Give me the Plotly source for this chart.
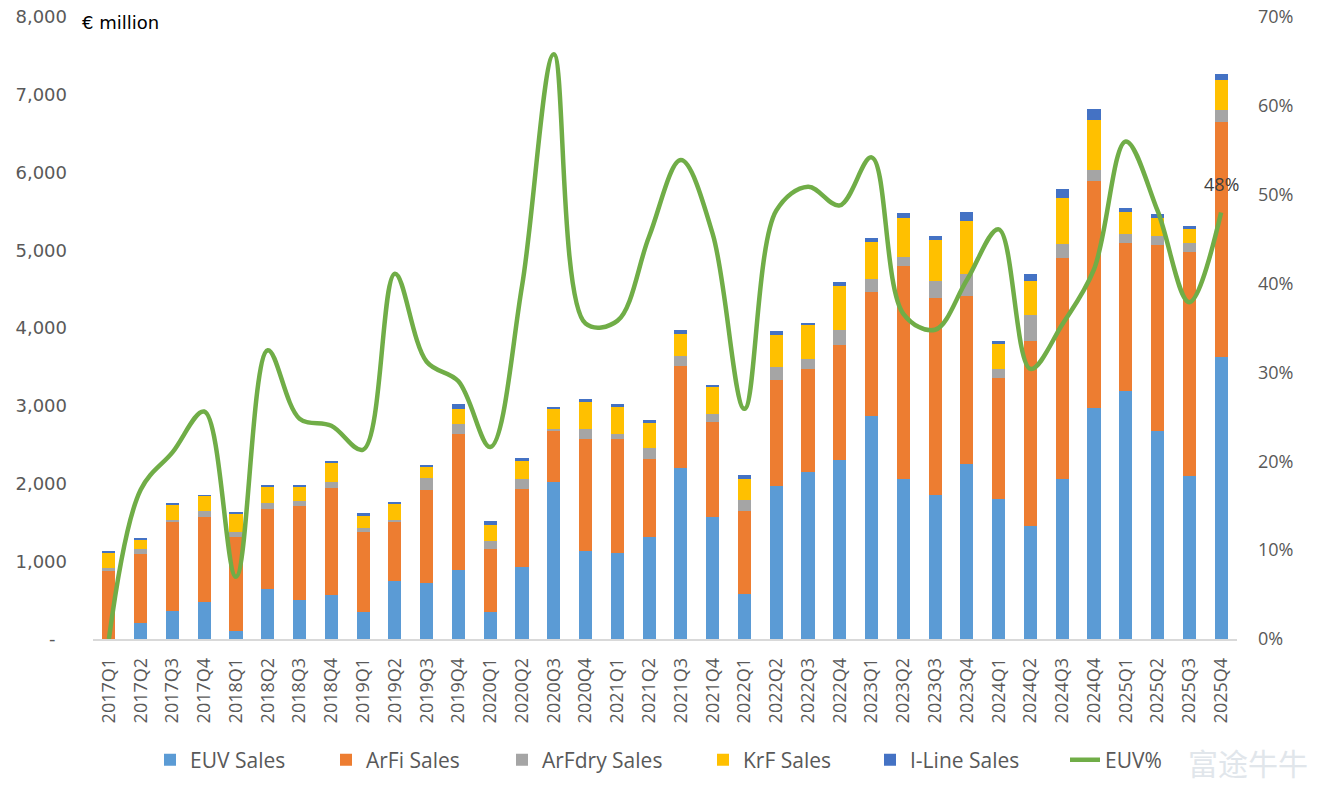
import plotly.graph_objects as go

quarters = [f"{y}Q{q}" for y in range(2017, 2026) for q in range(1, 5)]

euv_sales = [0, 211, 363, 482, 103, 644, 503, 568, 352, 747, 715, 893,
             341, 926, 2019, 1131, 1110, 1315, 2203, 1575, 579, 1965, 2149, 2301,
             2874, 2062, 1846, 2257, 1803, 1456, 2062, 2972, 3188, 2669, 2095, 3632]
arfi_sales = [871, 882, 1142, 1088, 1207, 1029, 1208, 1375, 1018, 758, 1201, 1738,
              817, 1001, 655, 1440, 1461, 1002, 1310, 1213, 1067, 1364, 1321, 1477,
              1592, 2734, 2544, 2155, 1558, 2382, 2837, 2923, 1906, 2403, 2880, 3015]
arfdry_sales = [44, 65, 32, 76, 65, 75, 70, 76, 64, 27, 152, 135,
                103, 130, 27, 130, 65, 146, 130, 103, 140, 168, 130, 195,
                162, 114, 211, 281, 109, 335, 184, 140, 119, 108, 119, 157]
krf_sales = [195, 125, 190, 194, 243, 217, 173, 244, 152, 206, 146, 195,
             206, 238, 260, 347, 347, 314, 281, 357, 276, 411, 433, 568,
             476, 503, 536, 682, 324, 433, 595, 639, 281, 238, 173, 384]
iline_sales = [10, 22, 21, 11, 17, 16, 27, 27, 32, 21, 22, 59,
               49, 33, 22, 37, 37, 38, 49, 21, 49, 49, 32, 49,
               55, 65, 43, 114, 38, 87, 108, 141, 54, 49, 43, 76]
euv_pct = [0, 16.8, 21.0, 25.6, 7.0, 32.5, 24.8, 24.0, 21.3, 41.1, 31.2, 29.0,
           21.6, 39.7, 65.8, 35.5, 35.8, 45.3, 53.9, 45.6, 25.9, 48.2, 50.9, 48.8,
           54.2, 36.6, 34.8, 40.4, 46.1, 30.4, 35.4, 41.6, 56.0, 48.2, 37.9, 48.0]

left_tickvals = [0, 1000, 2000, 3000, 4000, 5000, 6000, 7000, 8000]
left_ticktext = ["-\u00a0\u00a0", "1,000", "2,000", "3,000", "4,000", "5,000", "6,000", "7,000", "8,000"]

W, H = 1329, 800
GRAY = "#595959"

bar_series = [
    ("EUV Sales", euv_sales, "#5B9BD5", "legend", 190),
    ("ArFi Sales", arfi_sales, "#ED7D31", "legend2", 366),
    ("ArFdry Sales", arfdry_sales, "#A5A5A5", "legend3", 542),
    ("KrF Sales", krf_sales, "#FFC000", "legend4", 743),
    ("I-Line Sales", iline_sales, "#4472C4", "legend5", 910),
]

fig = go.Figure()
for name, vals, color, lg, _ in bar_series:
    fig.add_trace(go.Bar(x=quarters, y=vals, name=name, marker_color=color,
                         marker_line_width=0, legend=lg, yaxis="y"))

fig.add_trace(go.Scatter(x=quarters, y=euv_pct, name="EUV%", mode="lines",
                         line=dict(color="#70AD47", width=4.5, shape="spline", smoothing=1),
                         yaxis="y2", legend="legend6"))

legend_font = dict(family="Open Sans", size=21, color=GRAY)
legends = {}
positions = [p for *_, p in bar_series] + [1105]
for i, tx in enumerate(positions):
    key = "legend" if i == 0 else f"legend{i+1}"
    legends[key] = dict(x=(tx - 40) / W, xref="container", xanchor="left",
                        y=1 - 760 / H, yref="container", yanchor="middle",
                        orientation="h", font=legend_font, bgcolor="rgba(0,0,0,0)")

fig.update_layout(
    width=W, height=H,
    margin=dict(l=93, r=92, t=17, b=161, autoexpand=False),
    paper_bgcolor="white", plot_bgcolor="white",
    barmode="stack", bargap=0.59,
    showlegend=True,
    xaxis=dict(type="category", range=[-0.5, 35.5], tickangle=-90, automargin=False,
               showgrid=False, showline=True, linecolor="#D9D9D9", linewidth=1.5,
               ticks="", tickfont=dict(family="Open Sans", size=18, color=GRAY),
               ticklabelstandoff=10),
    yaxis=dict(range=[0, 8000], tickvals=left_tickvals, ticktext=left_ticktext, automargin=False,
               showgrid=False, zeroline=False, showline=False, ticks="",
               tickfont=dict(family="DejaVu Sans", size=18, color=GRAY),
               ticklabelstandoff=25),
    yaxis2=dict(range=[0, 70], overlaying="y", side="right", dtick=10, ticksuffix="%",
                automargin=False,
                showgrid=False, zeroline=False, showline=False, ticks="",
                tickfont=dict(family="Open Sans", size=18, color=GRAY),
                ticklabelstandoff=20),
    annotations=[
        dict(text="€ million", xref="paper", yref="paper", x=(80 - 93) / 1144, y=(639 - 22) / 622,
             xanchor="left", yanchor="middle", showarrow=False,
             font=dict(family="DejaVu Sans", size=18, color="black")),
        dict(text=f"{euv_pct[-1]:.0f}%", x=quarters[-1], y=euv_pct[-1], xref="x", yref="y2",
             yshift=28, showarrow=False,
             font=dict(family="Open Sans", size=18, color="#404040")),
        dict(text="富途牛牛", xref="paper", yref="paper", x=(1310 - 93) / 1144, y=(639 - 762) / 622,
             xanchor="right", yanchor="middle", showarrow=False,
             font=dict(family="Noto Sans CJK SC", size=30, color="#E1E6EB")),
    ],
    **legends,
)

fig.write_html("out.html")
